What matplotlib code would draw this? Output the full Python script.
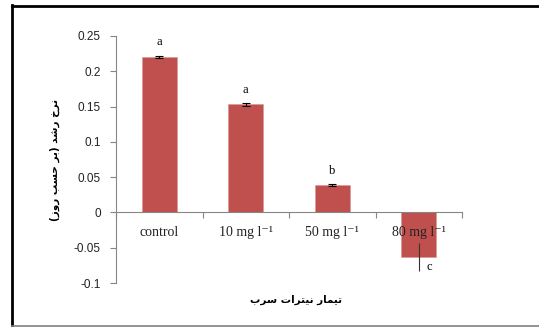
import matplotlib
matplotlib.use("Agg")
import matplotlib.pyplot as plt
from matplotlib.lines import Line2D
from matplotlib.ticker import FuncFormatter

categories = ["control", "10 mg l\u207b\u00b9", "50 mg l\u207b\u00b9", "80 mg l\u207b\u00b9"]
values = [0.22, 0.153, 0.039, -0.063]
errors = [0.001, 0.002, 0.001, 0.02]
letters = ["a", "a", "b", "c"]
yticks = [-0.1, -0.05, 0, 0.05, 0.1, 0.15, 0.2, 0.25]

# Persian labels (pre-shaped presentation forms, visual order)
xlabel_logical = "\uFE97\uFEF4\uFEE4\uFE8E\uFEAD \uFEE7\uFEF4\uFE98\uFEAE\uFE8D\uFE95 \uFEB3\uFEAE\uFE8F"
ylabel_logical = ("\uFEE7\uFEAE\uFEA5 \uFEAD\uFEB7\uFEAA (\uFE91\uFEAE \uFEA3\uFEB4\uFE90 "
                  "\uFEAD\uFEED\uFEAF)")

def visual(s):
    r = s[::-1]
    return r.translate(str.maketrans("()", ")("))

bar_color = "#C0504D"
axis_gray = "#868686"
serif = ["Liberation Serif", "DejaVu Serif"]
sans = ["Liberation Sans", "DejaVu Sans"]

plt.rcParams["font.family"] = serif

fig = plt.figure(figsize=(5.39, 3.27), dpi=100)
ax = fig.add_axes([116 / 539, 1 - 283 / 327, (462 - 116) / 539, (283 - 36) / 327])
ax.set_axisbelow(False)

x = list(range(len(categories)))
ax.bar(x, values, width=0.4, color=bar_color, edgecolor="#D99694", linewidth=0.4, zorder=2)
ax.errorbar(x[:3], values[:3], yerr=errors[:3], fmt="none", ecolor="black",
            elinewidth=0.8, capsize=3, capthick=0.8, zorder=3)
ax.errorbar(x[3:], values[3:], yerr=errors[3:], fmt="none", ecolor="#333333",
            elinewidth=0.8, capsize=0, zorder=3)

offsets = [(0, 0.021), (0, 0.02), (0, 0.019), (0.12, -0.014)]
for i, (v, l) in enumerate(zip(values, letters)):
    dx, dy = offsets[i]
    ax.text(i + dx, v + dy, l, ha="center", va="center", fontsize=9, family=serif, zorder=4)

ax.set_xlim(-0.5, 3.5)
ax.set_ylim(-0.1, 0.25)
ax.set_yticks(yticks)
ax.yaxis.set_major_formatter(FuncFormatter(lambda v, p: "0" if abs(v) < 1e-9 else f"{v:g}"))
ax.tick_params(axis="y", direction="out", length=4, width=0.8, color=axis_gray,
               labelsize=8.5, pad=7, labelcolor="#222222")

ax.set_xticks(x)
ax.set_xticklabels(categories)
ax.set_xticks([-0.5, 0.5, 1.5, 2.5, 3.5], minor=True)
ax.tick_params(axis="x", which="major", length=0, pad=10, labelsize=10, labelcolor="#222222")
ax.tick_params(axis="x", which="minor", direction="out", length=4, width=0.8, color=axis_gray)

for s in ["top", "right"]:
    ax.spines[s].set_visible(False)
ax.spines["left"].set_color(axis_gray)
ax.spines["left"].set_linewidth(0.8)
ax.spines["bottom"].set_position(("data", 0))
ax.spines["bottom"].set_color(axis_gray)
ax.spines["bottom"].set_linewidth(0.8)

fig.text(296 / 539, 1 - 300 / 327, visual(xlabel_logical), ha="center", va="center",
         fontsize=7.5, fontweight="bold", family=["DejaVu Sans"])
fig.text(55 / 539, 1 - 160 / 327, visual(ylabel_logical), ha="center", va="center",
         rotation=90, fontsize=7.5, fontweight="bold", family=["DejaVu Sans"])

# outer frame
fig.add_artist(Line2D([12 / 539, 1], [1 - 6 / 327, 1 - 6 / 327], color="black", linewidth=2.0,
                      transform=fig.transFigure))
fig.add_artist(Line2D([12 / 539, 12 / 539], [1 - 5 / 327, 1 - 326 / 327], color="black", linewidth=2.0,
                      transform=fig.transFigure))
fig.add_artist(Line2D([12 / 539, 1], [1 - 325.5 / 327, 1 - 325.5 / 327], color="#808080", linewidth=1.2,
                      transform=fig.transFigure))

fig.canvas.draw()
for t in ax.get_yticklabels():
    t.set_fontfamily(sans)

fig.savefig("out.png", dpi=100)
